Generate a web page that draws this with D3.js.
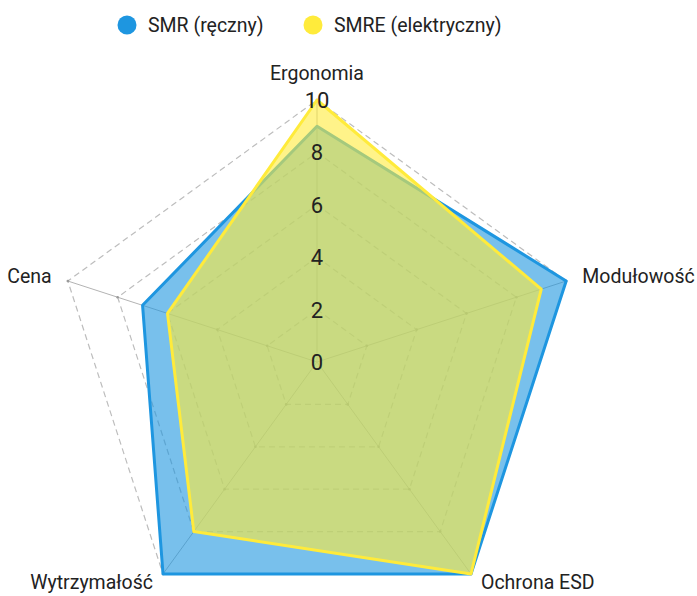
<!DOCTYPE html>
<html>
<head>
<meta charset="utf-8">
<script src="https://cdn.jsdelivr.net/npm/d3@7"></script>
<style>
  body { margin: 0; background: #fff; }
  text { font-family: Roboto, "Noto Sans", sans-serif; fill: #222; }
</style>
</head>
<body>
<div id="chart"></div>
<script>
const axes = ["Ergonomia", "Modułowość", "Ochrona ESD", "Wytrzymałość", "Cena"];
const seriesNames = ["SMR (ręczny)", "SMRE (elektryczny)"];
const smrValues = [9, 10, 10, 10, 7];
const smreValues = [10, 9, 10, 8, 6];
const ticks = [0, 2, 4, 6, 8, 10];
const colors = ["#1e96e0", "#ffeb3b"];

const width = 697, height = 596;
const cx = 317, cy = 362;
const R = 262;

const r = d3.scaleLinear().domain([0, 10]).range([0, R]);
const angle = d3.scaleBand().domain(axes).range([0, 2 * Math.PI]).align(0).padding(0);
// angle 0 = up, clockwise
function pt(name, v) {
  const a = angle(name);
  return [cx + r(v) * Math.sin(a), cy - r(v) * Math.cos(a)];
}

const svg = d3.select("#chart").append("svg")
  .attr("width", width)
  .attr("height", height);

// dashed rings
const ringLine = d3.line();
svg.selectAll("path.ring")
  .data(ticks.filter(t => t > 0))
  .enter()
  .append("path")
  .attr("class", "ring")
  .attr("d", t => ringLine(axes.map(a => pt(a, t))) + "Z")
  .attr("fill", "none")
  .attr("stroke", "#bdbdbd")
  .attr("stroke-width", 1.2)
  .attr("stroke-dasharray", "6,4");

// axis spokes
svg.selectAll("line.spoke")
  .data(axes)
  .enter()
  .append("line")
  .attr("class", "spoke")
  .attr("x1", cx).attr("y1", cy)
  .attr("x2", a => pt(a, 10)[0])
  .attr("y2", a => pt(a, 10)[1])
  .attr("stroke", "#b3b3b3")
  .attr("stroke-width", 1);

// small dots on ring vertices
const dots = [];
axes.forEach(a => ticks.filter(t => t > 0).forEach(t => dots.push(pt(a, t))));
svg.selectAll("circle.vdot")
  .data(dots)
  .enter()
  .append("circle")
  .attr("class", "vdot")
  .attr("cx", d => d[0]).attr("cy", d => d[1])
  .attr("r", 1.3)
  .attr("fill", "#999");

// series areas
const series = [smrValues, smreValues];
svg.selectAll("path.series")
  .data(series)
  .enter()
  .append("path")
  .attr("class", "series")
  .attr("d", vals => ringLine(axes.map((a, i) => pt(a, vals[i]))) + "Z")
  .attr("fill", (d, i) => colors[i])
  .attr("fill-opacity", 0.6)
  .attr("stroke", (d, i) => colors[i])
  .attr("stroke-width", 3)
  .attr("stroke-linejoin", "round");

// tick labels along the Ergonomia axis
svg.selectAll("text.tick")
  .data(ticks)
  .enter()
  .append("text")
  .attr("class", "tick")
  .attr("x", cx)
  .attr("y", t => pt(axes[0], t)[1])
  .attr("dy", "0.36em")
  .attr("text-anchor", "middle")
  .style("font-size", "22px")
  .text(t => t);

// axis labels (bottom ones nudged up so they stay inside the frame)
svg.selectAll("text.axisLabel")
  .data(axes)
  .enter()
  .append("text")
  .attr("class", "axisLabel")
  .each(function(a) {
    const ang = angle(a);
    const s = Math.sin(ang), c = Math.cos(ang);
    const p = pt(a, 10 + 17 / R * 10);
    const t = d3.select(this);
    t.attr("x", p[0]).attr("y", p[1])
      .attr("text-anchor", s > 0.1 ? "start" : s < -0.1 ? "end" : "middle")
      .attr("dy", c > 0.9 ? "-0.15em" : c < -0.5 ? "0.05em" : "0.35em");
  })
  .style("font-size", "19.5px")
  .text(a => a);

// legend
const legend = svg.selectAll("g.legend")
  .data(seriesNames)
  .enter()
  .append("g")
  .attr("class", "legend")
  .attr("transform", (d, i) => `translate(${[127, 313][i]},25)`);
legend.append("circle")
  .attr("r", 9.5)
  .attr("fill", (d, i) => colors[i]);
legend.append("text")
  .attr("x", 21)
  .attr("dy", "0.35em")
  .style("font-size", "19.5px")
  .text(d => d);
</script>
</body>
</html>
